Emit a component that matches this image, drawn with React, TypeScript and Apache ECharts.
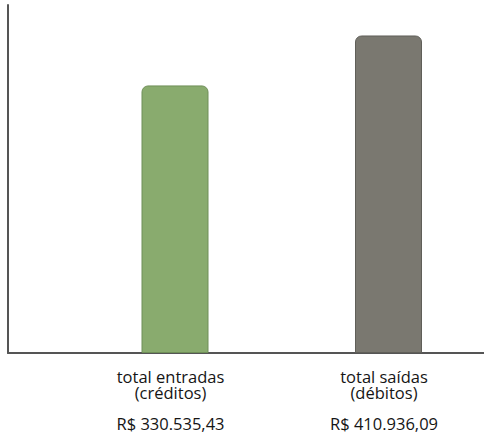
import React, { useEffect, useRef } from "react";
import * as echarts from "echarts";

const categories = ["total entradas", "total saídas"];
const subLabels = ["(créditos)", "(débitos)"];
const values = [330535.43, 410936.09];
const barColors = ["#89ab6e", "#7a7870"];
const borderColors = ["#6f8f58", "#605f59"];

function formatBRL(v: number): string {
  const fixed = v.toFixed(2);
  const [intPart, dec] = fixed.split(".");
  const withDots = intPart.replace(/\B(?=(\d{3})+(?!\d))/g, ".");
  return "R$ " + withDots + "," + dec;
}

export default function App() {
  const ref = useRef<HTMLDivElement>(null);
  useEffect(() => {
    if (!ref.current) return;
    const chart = echarts.init(ref.current, null, { renderer: "svg" });
    const font = "'Open Sans', 'Noto Sans', sans-serif";
    chart.setOption({
      animation: false,
      grid: [
        { left: 8, right: 0, top: 5, bottom: 86 },
        { left: 175, right: 95.5, top: 5, bottom: 86 },
      ],
      xAxis: [
        {
          type: "category",
          gridIndex: 0,
          data: [""],
          axisLine: { show: true, onZero: false, lineStyle: { color: "#555", width: 2 } },
          axisTick: { show: false },
          axisLabel: { show: false },
        },
        {
          type: "category",
          gridIndex: 1,
          boundaryGap: false,
          data: categories,
          axisLine: { show: false },
          axisTick: { show: false },
          axisLabel: {
            margin: 15,
            interval: 0,
            padding: [0, 9, 0, 0],
            formatter: (name: string, idx: number) =>
              `{a|${name}}\n{a|${subLabels[idx]}}\n{b|${formatBRL(values[idx])}}`,
            rich: {
              a: { fontFamily: font, fontSize: 16.5, lineHeight: 16.5, color: "#151515", align: "center" },
              b: { fontFamily: font, fontSize: 16.5, lineHeight: 44, color: "#151515", align: "center" },
            },
          },
        },
      ],
      yAxis: [
        {
          type: "value",
          gridIndex: 0,
          min: 0,
          max: 1,
          axisLine: { show: true, onZero: false, lineStyle: { color: "#555", width: 2 } },
          axisTick: { show: false },
          axisLabel: { show: false },
          splitLine: { show: false },
        },
        {
          type: "value",
          gridIndex: 1,
          show: false,
          min: -100000,
          max: 460000,
          startValue: -100000,
          splitLine: { show: false },
        },
      ],
      series: [
        {
          type: "bar",
          xAxisIndex: 1,
          yAxisIndex: 1,
          barWidth: 67,
          clip: false,
          data: values.map((v, i) => ({
            value: v,
            itemStyle: {
              color: barColors[i],
              borderColor: borderColors[i],
              borderWidth: 1,
              borderRadius: [6, 6, 0, 0],
            },
          })),
        },
      ],
    });
    return () => chart.dispose();
  }, []);
  return <div ref={ref} style={{ width: 484, height: 439, position: "absolute", left: 0, top: 0 }} />;
}
